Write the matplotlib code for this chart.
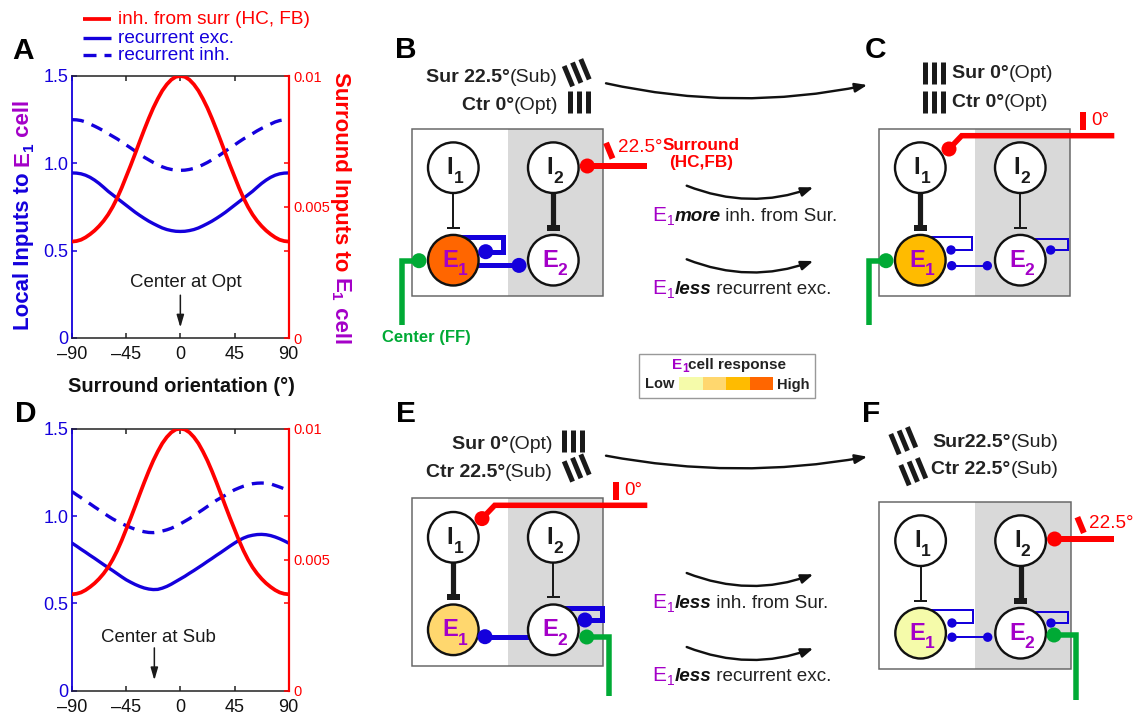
import numpy as np
import matplotlib
matplotlib.use('Agg')
import matplotlib.pyplot as plt
from matplotlib.patches import Rectangle, Circle, FancyArrowPatch

plt.rcParams['font.family'] = ['Liberation Sans', 'DejaVu Sans']

# curve data (every 3.75 deg)
orient = np.arange(-90, 90.1, 3.75)

surr_half = [.00368, .00370, .00375, .00384, .00396, .00410, .00427, .00447, .00471, .00500, .00534, .00573, .00616,
             .00659, .00704, .00750, .00795, .00838, .00878, .00913, .00944, .00968, .00986, .00997, .0100]
exc_a_half = [.945, .944, .94, .932, .92, .904, .885, .863, .84, .82, .80, .78, .76,
              .74, .72, .702, .685, .669, .655, .642, .63, .621, .615, .611, .61]
inh_a_half = [1.25, 1.249, 1.245, 1.237, 1.225, 1.213, 1.20, 1.186, 1.17, 1.155, 1.14, 1.123, 1.105,
              1.088, 1.07, 1.052, 1.035, 1.02, 1.005, .992, .98, .971, .965, .961, .96]

surr_inh = surr_half + surr_half[-2::-1]
exc_a = exc_a_half + exc_a_half[-2::-1]
inh_a = inh_a_half + inh_a_half[-2::-1]

exc_d = [.845, .828, .81, .793, .775, .758, .74, .722, .705, .688, .67, .652, .635, .621, .608, .597, .588,
         .582, .579, .58, .587, .597, .61, .625, .64, .655, .672, .688, .705, .722, .74, .757, .775,
         .792, .81, .828, .845, .861, .874, .884, .89, .894, .895, .893, .888, .88, .87, .858, .845]
inh_d = [1.14, 1.122, 1.105, 1.087, 1.07, 1.052, 1.035, 1.017, 1.0, .984, .97, .957, .945, .934, .924, .916, .91,
         .906, .905, .908, .914, .921, .93, .942, .955, .97, .985, 1.002, 1.02, 1.037, 1.055, 1.072, 1.09,
         1.105, 1.12, 1.136, 1.15, 1.161, 1.171, 1.179, 1.185, 1.188, 1.189, 1.188, 1.184, 1.175, 1.166, 1.156, 1.145]

x_ticks = [-90, -45, 0, 45, 90]
x_labels = ['\u201390', '\u201345', '0', '45', '90']
left_ticks = [0, 0.5, 1.0, 1.5]
left_labels = ['0', '0.5', '1.0', '1.5']
right_ticks = [0, 0.01 / 3, 0.005, 0.02 / 3, 0.01]
right_labels = ['0', '', '0.005', '', '0.01']

response_levels = ['#F5FBAA', '#FFD76E', '#FFBB00', '#FF6600']

BLUE = '#1400DC'
RED = '#FF0000'
GREEN = '#00AA35'
PURPLE = '#A400C8'
DARK = '#1A1A1A'
PX = 0.72  # one pixel in points

W, H = 1136, 714
fig = plt.figure(figsize=(W / 100, H / 100), dpi=100)

# overlay in pixel units, y down
ov = fig.add_axes([0, 0, 1, 1], zorder=5)
ov.set_xlim(0, W)
ov.set_ylim(H, 0)
ov.axis('off')
ov.patch.set_alpha(0)
rend = fig.canvas.get_renderer()


def runs(x, y, parts, rot=0):
    # draws text pieces one after the other, parts = (string, color, weight, style, size, drop)
    for s, col, wt, st, size, drop in parts:
        tx, ty = x, y
        if rot == 90:
            tx = x + drop
        elif rot == -90:
            tx = x - drop
        else:
            ty = y + drop
        t = ov.text(tx, ty, s, color=col, weight=wt, style=st, fontsize=size, rotation=rot,
                    rotation_mode='anchor', ha='left', va='baseline')
        bb = t.get_window_extent(rend)
        if rot == 90:
            y -= bb.height
        elif rot == -90:
            y += bb.height
        else:
            x += bb.width


def make_plot(top, exc, inh, note, note_x, note_y, arrow_x):
    left, bottom = 72, top + 262
    ax = fig.add_axes([left / W, 1 - bottom / H, 216.7 / W, 262 / H], zorder=2)
    ax.plot(orient, exc, color=BLUE, lw=2.4)
    ax.plot(orient, inh, color=BLUE, lw=2.4, linestyle=(0, (3.6, 2.5)))
    ax.set_xlim(-90, 90)
    ax.set_ylim(0, 1.5)
    ax.set_xticks(x_ticks)
    ax.set_xticklabels(x_labels, fontsize=13, color='#111111')
    ax.set_yticks(left_ticks)
    ax.set_yticklabels(left_labels, fontsize=13, color=BLUE)
    ax.tick_params(axis='x', direction='in', length=3.5, width=1.1, pad=6, top=True, color='#222222')
    ax.tick_params(axis='y', direction='in', length=3.5, width=1.1, pad=2.6, color=BLUE)
    ax.spines['left'].set_color(BLUE)
    ax.spines['left'].set_linewidth(1.3)
    for side in ['top', 'bottom']:
        ax.spines[side].set_linewidth(1.1)
        ax.spines[side].set_color('#222222')
    ax.spines['right'].set_visible(False)
    ax.annotate('', xy=(arrow_x, .06), xytext=(arrow_x, .245),
                arrowprops=dict(arrowstyle='-|>,head_width=0.22,head_length=0.75', color=DARK, lw=1.1, shrinkA=0, shrinkB=0))
    ax.text(note_x, note_y, note, fontsize=13.4, color=DARK, ha='center', va='center')

    ax2 = ax.twinx()
    ax2.plot(orient, surr_inh, color=RED, lw=2.7)
    ax2.set_ylim(0, 0.01)
    ax2.set_yticks(right_ticks)
    ax2.set_yticklabels(right_labels, fontsize=10.5, color=RED)
    ax2.tick_params(axis='y', direction='in', length=3.5, width=1.1, pad=3.5, color=RED)
    ax2.spines['right'].set_color(RED)
    ax2.spines['right'].set_linewidth(1.6)
    ax2.spines['left'].set_visible(False)
    ax2.spines['top'].set_visible(False)
    ax2.spines['bottom'].set_visible(False)
    return ax


make_plot(76, exc_a, inh_a, 'Center at Opt', 4.7, .315, 0)
make_plot(428.7, exc_d, inh_d, 'Center at Sub', -18.6, .306, -21.6)

ov.text(181, 386, 'Surround orientation (\u00b0)', fontsize=14.5, weight='bold', color='#111111', ha='center', va='center')

# legend of panel A
ov.plot([83, 111], [18.5, 18.5], color=RED, lw=2.7, solid_capstyle='butt')
ov.plot([83, 111], [37.5, 37.5], color=BLUE, lw=2.4, solid_capstyle='butt')
ov.plot([83, 111], [55, 55], color=BLUE, lw=2.4, linestyle=(0, (3.9, 2.4)))
for yy, s, col in [(24, 'inh. from surr (HC, FB)', RED), (43, 'recurrent exc.', BLUE), (60, 'recurrent inh.', BLUE)]:
    ov.text(117.5, yy, s, fontsize=13.7, color=col, ha='left', va='baseline')

# axis titles with the purple E1 part
runs(29, 330, [('Local Inputs to ', BLUE, 'bold', 'normal', 16, 0), ('E', PURPLE, 'bold', 'normal', 16, 0),
               ('1', BLUE, 'bold', 'normal', 11, 4), (' cell', PURPLE, 'bold', 'normal', 16, 0)], rot=90)
runs(335, 72, [('Surround Inputs to ', RED, 'bold', 'normal', 16, 0), ('E', PURPLE, 'bold', 'normal', 16, 0),
               ('1', PURPLE, 'bold', 'normal', 11, 4), (' cell', PURPLE, 'bold', 'normal', 16, 0)], rot=-90)

# panel letters
for s, xx, yy in [('A', 12, 59), ('B', 395, 58), ('C', 865, 58), ('D', 15, 422), ('E', 396.5, 422), ('F', 862.5, 422)]:
    ov.text(xx, yy, s, fontsize=21.5, weight='bold', color='black', ha='left', va='baseline')


def seg(xs, ys, col, lw_px, z=3, cap='butt'):
    ov.plot(xs, ys, color=col, lw=lw_px * PX, solid_capstyle=cap, solid_joinstyle='miter', zorder=z)


def dot(x, y, r, col, z=6):
    ov.add_patch(Circle((x, y), r, fc=col, ec='none', zorder=z))


def cell(x, y, letter, sub, col, fill):
    ov.add_patch(Circle((x, y), 25.3, fc=fill, ec='#111111', lw=2.4 * PX, zorder=5))
    ov.text(x - 3.2, y, letter, fontsize=17, weight='bold', color=col, ha='center', va='center', zorder=7)
    dx, dy = (9, 10.7) if letter == 'E' else (5, 11)
    ov.text(x + dx, y + dy, sub, fontsize=12.5, weight='bold', color=col, ha='center', va='center', zorder=7)


def t_bar(x, strong, ox, oy):
    lw = 5.2 if strong else 2
    th = 6 if strong else 2
    seg([x, x], [oy + 64, oy + 99], DARK, lw)
    ov.add_patch(Rectangle((x - 6.5, oy + 99 - th / 2), 13, th, fc=DARK, ec='none', zorder=4))


def loop(ox, oy, x0, x1, y0, y1, xd, thick):
    lw = 5 if thick else 2
    seg([ox + x0, ox + x1, ox + x1, ox + xd], [oy + y0, oy + y0, oy + y1, oy + y1], BLUE, lw)
    dot(ox + xd, oy + y1, 7.5 if thick else 4.7, BLUE)


def tick_mark(cx, cy, angle, length, width, col):
    # positive angle leans like a backslash
    a = np.radians(angle)
    dx, dy = np.sin(a) * length / 2, np.cos(a) * length / 2
    seg([cx - dx, cx + dx], [cy - dy, cy + dy], col, width, z=4)


def grating(cx, cy, angle):
    a = np.radians(angle)
    for k in (-1, 0, 1):
        tick_mark(cx + k * 9 * np.cos(a), cy - k * 9 * np.sin(a), angle, 22, 5, DARK)


def circuit(ox, oy, e1_fill, strong_i1):
    ov.add_patch(Rectangle((ox, oy), 96.3, 167.3, fc='white', ec='none', zorder=1))
    ov.add_patch(Rectangle((ox + 96.3, oy), 95.3, 167.3, fc='#D9D9D9', ec='none', zorder=1))
    ov.add_patch(Rectangle((ox, oy), 191.6, 167.3, fc='none', ec='#666666', lw=1.5 * PX, zorder=2))
    t_bar(ox + 41.6, strong_i1, ox, oy)
    t_bar(ox + 141.6, not strong_i1, ox, oy)
    cell(ox + 41.6, oy + 39, 'I', '1', DARK, 'white')
    cell(ox + 141.6, oy + 39, 'I', '2', DARK, 'white')
    cell(ox + 41.6, oy + 131.5, 'E', '1', PURPLE, e1_fill)
    cell(ox + 141.6, oy + 131.5, 'E', '2', PURPLE, 'white')


def red_side(ox, oy, shift=0):
    seg([ox + 175.6, ox + 235], [oy + 37.3, oy + 37.3], RED, 6)
    dot(ox + 175.6, oy + 37.3, 7.5, RED)
    tick_mark(ox + 197.6 + shift, oy + 22 + shift / 3, 22.5, 17, 6, RED)
    ov.text(ox + 206.3 + shift, oy + 19.3 + shift / 2, '22.5\u00b0', fontsize=13.6, color=RED, ha='left', va='center', zorder=7)


def red_top(ox, oy):
    seg([ox + 70.3, ox + 83, ox + 235.6], [oy + 20.3, oy + 7, oy + 7], RED, 5.5)
    dot(ox + 70.3, oy + 20.3, 7.5, RED)
    tick_mark(ox + 204.5, oy - 7.7, 0, 18, 6, RED)
    ov.text(ox + 213, oy - 8, '0\u00b0', fontsize=13.6, color=RED, ha='left', va='center', zorder=7)


def green_left(ox, oy):
    seg([ox + 7.3, ox - 10, ox - 10], [oy + 132, oy + 132, oy + 196.5], GREEN, 5.5, z=6)
    dot(ox + 7.3, oy + 132, 7.5, GREEN)


def green_right(ox, oy, ydot):
    seg([ox + 175, ox + 197, ox + 197], [oy + ydot, oy + ydot, oy + 198], GREEN, 5.5, z=6)
    dot(ox + 175, oy + ydot, 7.5, GREEN)


def stim_text(x, y, bold, reg):
    runs(x, y, [(bold, '#222222', 'bold', 'normal', 14, 0), (reg, '#222222', 'normal', 'normal', 14, 0)])


def effect(x, y, word, rest):
    runs(x, y, [('E', PURPLE, 'normal', 'normal', 15, 0), ('1', PURPLE, 'normal', 'normal', 10, 4),
                (word, '#111111', 'bold', 'italic', 13.6, 0), (' ' + rest, '#222222', 'normal', 'normal', 13.6, 0)])


def curved(p0, p1, rad):
    ov.add_patch(FancyArrowPatch(p0, p1, connectionstyle='arc3,rad=%g' % rad, color='#111111', lw=2.4 * PX,
                                 arrowstyle='-|>,head_width=1.7,head_length=4.5', shrinkA=0, shrinkB=0,
                                 mutation_scale=1.6, zorder=4))


# panel B
bx, by = 411.7, 128.7
circuit(bx, by, response_levels[3], False)
loop(bx, by, 45, 91.6, 108, 123, 74, True)
seg([bx + 60, bx + 107.3], [by + 136.7, by + 136.7], BLUE, 5)
dot(bx + 107.3, by + 136.7, 7.5, BLUE)
red_side(bx, by)
green_left(bx, by)
ov.text(701.5, 146, 'Surround', fontsize=12.3, weight='bold', color=RED, ha='center', va='center', zorder=7)
ov.text(701.5, 163, '(HC,FB)', fontsize=12.3, weight='bold', color=RED, ha='center', va='center', zorder=7)
ov.text(426.5, 337.5, 'Center (FF)', fontsize=12, weight='bold', color=GREEN, ha='center', va='center')
stim_text(425.7, 81.7, 'Sur 22.5\u00b0', '(Sub)')
stim_text(461.7, 110, 'Ctr 0\u00b0', '(Opt)')
grating(576.7, 72.7, 22.5)
grating(578.7, 101.7, 0)
curved((606, 83.3), (867.3, 85), 0.107)
curved((686.7, 185.7), (813.3, 187.3), 0.19)
curved((686.7, 259.3), (813.3, 261), 0.19)
effect(652.7, 221, 'more', 'inh. from Sur.')
effect(652.7, 294, 'less', 'recurrent exc.')

# panel C
cx, cy = 878.7, 128.7
circuit(cx, cy, response_levels[2], True)
loop(cx, cy, 45, 93.6, 108, 121.3, 72.3, False)
loop(cx, cy, 150, 189, 110.3, 121.3, 172, False)
seg([cx + 73, cx + 108.6], [cy + 137, cy + 137], BLUE, 2)
dot(cx + 73, cy + 137, 4.7, BLUE)
dot(cx + 108.6, cy + 137, 4.7, BLUE)
red_top(cx, cy)
green_left(cx, cy)
stim_text(951.7, 78.3, 'Sur 0\u00b0', '(Opt)')
stim_text(951.7, 107.3, 'Ctr 0\u00b0', '(Opt)')
grating(934, 72.7, 0)
grating(934, 101.7, 0)

# panel E
ex, ey = 411.7, 498.3
circuit(ex, ey, response_levels[1], True)
loop(ex, ey, 145, 190, 110, 121.7, 173.3, True)
seg([ex + 73.3, ex + 120], [ey + 138.4, ey + 138.4], BLUE, 5)
dot(ex + 73.3, ey + 138.4, 7.5, BLUE)
red_top(ex, ey)
green_right(ex, ey, 138.7)
stim_text(452.3, 449, 'Sur 0\u00b0', '(Opt)')
stim_text(425.7, 476.7, 'Ctr 22.5\u00b0', '(Sub)')
grating(572.7, 441, 0)
grating(576.7, 468, 22.5)
curved((606, 455.7), (867.3, 456.7), 0.092)
curved((686.7, 573), (813.3, 574.3), 0.19)
curved((686.7, 647), (813.3, 648.3), 0.19)
effect(652.7, 608.3, 'less', 'inh. from Sur.')
effect(652.7, 681, 'less', 'recurrent exc.')

# panel F
fx, fy = 879, 501.7
circuit(fx, fy, response_levels[0], False)
loop(fx, fy, 45, 93.6, 108, 121.3, 73, False)
loop(fx, fy, 150, 189, 110.3, 121.3, 172, False)
seg([fx + 73, fx + 108.7], [fy + 135.5, fy + 135.5], BLUE, 2)
dot(fx + 73, fy + 135.5, 4.7, BLUE)
dot(fx + 108.7, fy + 135.5, 4.7, BLUE)
red_side(fx, fy, shift=4)
green_right(fx, fy, 133.3)
stim_text(932.3, 446.7, 'Sur22.5\u00b0', '(Sub)')
stim_text(931, 474, 'Ctr 22.5\u00b0', '(Sub)')
grating(903.3, 440.7, 22.5)
grating(913.3, 471.7, 22.5)

# response colour key
ov.add_patch(Rectangle((639.3, 354.3), 175.7, 44, fc='white', ec='#999999', lw=1.4 * PX, zorder=2))
for i, c in enumerate(response_levels):
    ov.add_patch(Rectangle((679.3 + i * 23.5, 376.7), 23.5, 13, fc=c, ec='none', zorder=3))
runs(671.7, 369, [('E', PURPLE, 'bold', 'normal', 11, 0), ('1', PURPLE, 'bold', 'normal', 8.5, 3),
                  ('cell response', '#222222', 'bold', 'normal', 11, 0)])
ov.text(645, 388.5, 'Low', fontsize=10.5, weight='bold', color='#222222', ha='left', va='baseline')
ov.text(776.7, 388.5, 'High', fontsize=10.5, weight='bold', color='#222222', ha='left', va='baseline')

fig.savefig('out.png', dpi=100)
